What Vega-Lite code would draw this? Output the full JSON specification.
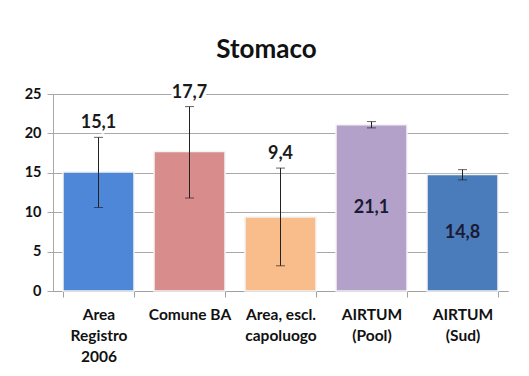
{
  "$schema": "https://vega.github.io/schema/vega-lite/v6.json",
  "width": 455,
  "height": 197,
  "padding": {"left": 24, "top": 36, "right": 10, "bottom": 5},
  "background": "white",
  "config": {
    "locale": {"number": {"decimal": ",", "thousands": ".", "grouping": [3], "currency": ["€", ""]}},
    "view": {"stroke": null},
    "font": "Lato",
    "axisY": {"grid": true, "gridColor": "#a8a8a8", "gridWidth": 1, "tickColor": "#a8a8a8", "tickSize": 6, "domainColor": "#a8a8a8", "labelFont": "Lato", "labelFontWeight": "bold", "labelFontSize": 14.5, "labelColor": "#111", "labelPadding": 6, "labelOverlap": false}
  },
  "title": {"text": "Stomaco", "fontSize": 26, "font": "Lato", "fontWeight": "bold", "color": "#111", "offset": 21, "dx": -14},
  "data": {"values": [
    {"cat": "Area\nRegistro\n2006", "value": 15.1, "lo": 10.6, "hi": 19.5, "pos": "above"},
    {"cat": "Comune BA", "value": 17.7, "lo": 11.8, "hi": 23.4, "pos": "above"},
    {"cat": "Area, escl.\ncapoluogo", "value": 9.4, "lo": 3.2, "hi": 15.6, "pos": "above"},
    {"cat": "AIRTUM\n(Pool)", "value": 21.1, "lo": 20.7, "hi": 21.5, "pos": "inside"},
    {"cat": "AIRTUM\n(Sud)", "value": 14.8, "lo": 14.1, "hi": 15.4, "pos": "inside"}
  ]},
  "encoding": {
    "x": {"field": "cat", "type": "nominal", "sort": null,
      "scale": {"paddingInner": 0.22, "paddingOuter": 0.11},
      "axis": {"title": null, "labelAngle": 0, "labelExpr": "split(datum.label, '\\n')", "labelFont": "Lato", "labelFontWeight": "bold", "labelFontSize": 15.5, "labelColor": "#111", "labelLineHeight": 21, "labelPadding": 10, "tickBand": "extent", "tickSize": 6, "tickColor": "#a0a0a0", "domainColor": "#a0a0a0", "labelBaseline": "top"}}
  },
  "layer": [
    {
      "mark": {"type": "bar", "stroke": "#f4f4f4", "strokeWidth": 1.5},
      "encoding": {
        "y": {"field": "value", "type": "quantitative",
          "scale": {"domain": [0, 25], "nice": false},
          "axis": {"title": null, "values": [0, 5, 10, 15, 20, 25]}},
        "color": {"field": "cat", "type": "nominal", "sort": null, "legend": null,
          "scale": {"range": ["#4f87d8", "#d88d8c", "#f9bd8c", "#b3a1c9", "#4a7cbc"]}}
      }
    },
    {
      "mark": {"type": "rule", "color": "#222", "strokeWidth": 1},
      "encoding": {"y": {"field": "lo", "type": "quantitative", "axis": {"title": null, "values": [0, 5, 10, 15, 20, 25]}}, "y2": {"field": "hi"}}
    },
    {
      "mark": {"type": "tick", "color": "#222", "thickness": 1, "size": 9},
      "encoding": {"y": {"field": "lo", "type": "quantitative", "axis": {"title": null, "values": [0, 5, 10, 15, 20, 25]}}}
    },
    {
      "mark": {"type": "tick", "color": "#222", "thickness": 1, "size": 9},
      "encoding": {"y": {"field": "hi", "type": "quantitative", "axis": {"title": null, "values": [0, 5, 10, 15, 20, 25]}}}
    },
    {
      "transform": [{"filter": "datum.pos === 'above'"}],
      "mark": {"type": "text", "font": "Lato", "fontWeight": "bold", "fontSize": 18, "color": "#1a1a1a", "baseline": "middle", "dy": -14, "stroke": "white", "strokeWidth": 6, "strokeJoin": "round"},
      "encoding": {"y": {"field": "hi", "type": "quantitative", "axis": {"title": null, "values": [0, 5, 10, 15, 20, 25]}}, "text": {"field": "value", "type": "quantitative", "format": ".1f"}}
    },
    {
      "transform": [{"filter": "datum.pos === 'above'"}],
      "mark": {"type": "text", "font": "Lato", "fontWeight": "bold", "fontSize": 18, "color": "#1a1a1a", "baseline": "middle", "dy": -14},
      "encoding": {"y": {"field": "hi", "type": "quantitative", "axis": {"title": null, "values": [0, 5, 10, 15, 20, 25]}}, "text": {"field": "value", "type": "quantitative", "format": ".1f"}}
    },
    {
      "transform": [{"filter": "datum.pos === 'inside'"}, {"calculate": "datum.value / 2", "as": "mid"}],
      "mark": {"type": "text", "font": "Lato", "fontWeight": "bold", "fontSize": 18, "color": "#1a1a33", "baseline": "middle"},
      "encoding": {"y": {"field": "mid", "type": "quantitative", "axis": {"title": null, "values": [0, 5, 10, 15, 20, 25]}}, "text": {"field": "value", "type": "quantitative", "format": ".1f"}}
    }
  ]
}
